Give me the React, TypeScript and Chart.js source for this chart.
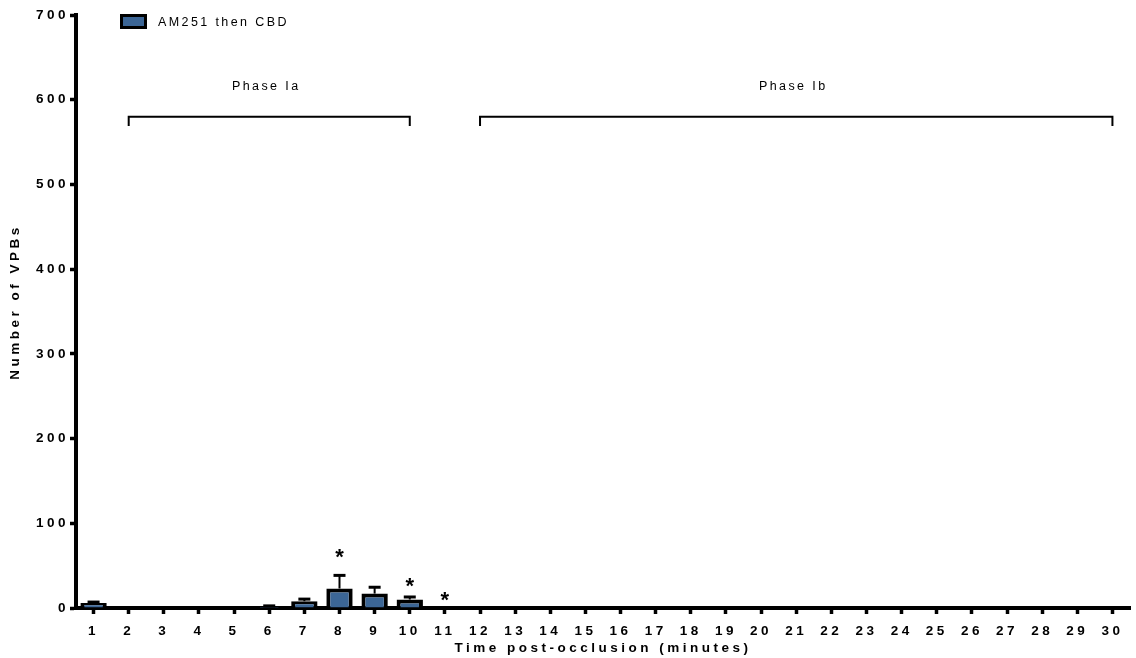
import React, { useEffect, useRef } from 'react';
import { Chart, registerables } from 'chart.js';

Chart.register(...registerables);

const minutes = ['1','2','3','4','5','6','7','8','9','10','11','12','13','14','15','16','17','18','19','20','21','22','23','24','25','26','27','28','29','30'];
const vpbMeans = [6,0,0,0,0,2,8,23,17,10,0,0,0,0,0,0,0,0,0,0,0,0,0,0,0,0,0,0,0,0];
const vpbErrors = [1,0,0,0,0,0.5,2.5,15.5,7.5,3,0,0,0,0,0,0,0,0,0,0,0,0,0,0,0,0,0,0,0,0];
const asteriskMinutes = ['8','10','11'];
const asteriskLevels = [64,30,13];
const phaseLabels = ['Phase Ia','Phase Ib'];
const phaseStarts = ['2','12'];
const phaseEnds = ['10','30'];
const bracketLevel = 580;
const bracketTickLevel = 569;
const phaseLabelLevel = 616;
const seriesName = 'AM251 then CBD';
const yTitle = 'Number of VPBs';
const xTitle = 'Time post-occlusion (minutes)';
const yMin = 0;
const yMax = 700;
const yStep = 100;

const FONT = '"Liberation Sans", Arial, Helvetica, sans-serif';
const BAR_BLUE = '#3C6696';
const SPACING = '3.5px';

const overlayPlugin = {
  id: 'overlay',
  beforeLayout(chart: any) {
    chart.ctx.letterSpacing = SPACING;
  },
  beforeDraw(chart: any) {
    chart.ctx.letterSpacing = SPACING;
  },
  afterDatasetsDraw(chart: any) {
    const ctx = chart.ctx;
    const x = chart.scales.x;
    const y = chart.scales.y;
    ctx.save();
    ctx.strokeStyle = '#000';
    vpbMeans.forEach((v, i) => {
      const e = vpbErrors[i];
      if (!e || !v) return;
      const px = x.getPixelForValue(i);
      const y0 = y.getPixelForValue(v);
      const y1 = y.getPixelForValue(v + e);
      ctx.lineWidth = 2;
      ctx.beginPath();
      ctx.moveTo(px, y0);
      ctx.lineTo(px, y1);
      ctx.stroke();
      ctx.lineWidth = 3;
      ctx.beginPath();
      ctx.moveTo(px - 6, y1);
      ctx.lineTo(px + 6, y1);
      ctx.stroke();
    });
    ctx.letterSpacing = '0px';
    ctx.fillStyle = '#000';
    ctx.font = `bold 22px ${FONT}`;
    ctx.textAlign = 'center';
    ctx.textBaseline = 'alphabetic';
    const m = ctx.measureText('*');
    const asc = m.actualBoundingBoxAscent;
    const desc = m.actualBoundingBoxDescent;
    asteriskMinutes.forEach((mn, k) => {
      const idx = minutes.indexOf(mn);
      const px = x.getPixelForValue(idx);
      const cy = y.getPixelForValue(asteriskLevels[k]);
      ctx.fillText('*', px, cy + (asc - desc) / 2);
    });
    ctx.restore();
  },
  afterDraw(chart: any) {
    const ctx = chart.ctx;
    const x = chart.scales.x;
    const y = chart.scales.y;
    ctx.save();
    ctx.strokeStyle = '#000';
    ctx.lineWidth = 2;
    ctx.fillStyle = '#000';
    ctx.font = `12.5px ${FONT}`;
    ctx.letterSpacing = '2.4px';
    ctx.textAlign = 'center';
    ctx.textBaseline = 'middle';
    phaseLabels.forEach((label, k) => {
      const xa = x.getPixelForValue(minutes.indexOf(phaseStarts[k]));
      const xb = x.getPixelForValue(minutes.indexOf(phaseEnds[k]));
      const yb = y.getPixelForValue(bracketLevel);
      const yt = y.getPixelForValue(bracketTickLevel);
      ctx.beginPath();
      ctx.moveTo(xa, yt);
      ctx.lineTo(xa, yb);
      ctx.lineTo(xb, yb);
      ctx.lineTo(xb, yt);
      ctx.stroke();
      ctx.fillText(label, (xa + xb) / 2 - 3, y.getPixelForValue(phaseLabelLevel));
    });
    // legend
    const lx = 120, ly = 14, lw = 27, lh = 15;
    ctx.fillStyle = '#000';
    ctx.fillRect(lx, ly, lw, lh);
    ctx.fillStyle = BAR_BLUE;
    ctx.fillRect(lx + 3, ly + 3, lw - 6, lh - 6);
    ctx.fillStyle = '#000';
    ctx.textAlign = 'left';
    ctx.textBaseline = 'middle';
    ctx.fillText(seriesName, 158, ly + lh / 2 + 1);
    // y title
    ctx.font = `bold 13.5px ${FONT}`;
    ctx.letterSpacing = SPACING;
    ctx.translate(15, 302);
    ctx.rotate(-Math.PI / 2);
    ctx.textAlign = 'center';
    ctx.fillText(yTitle, 0, 0);
    ctx.restore();
  },
};

export default function App() {
  const ref = useRef<HTMLCanvasElement | null>(null);
  useEffect(() => {
    if (!ref.current) return;
    const chart = new Chart(ref.current, {
      type: 'bar',
      data: {
        labels: minutes,
        datasets: [
          {
            label: seriesName,
            data: vpbMeans,
            backgroundColor: BAR_BLUE,
            borderColor: '#000',
            borderWidth: 4,
            barPercentage: 0.75,
            categoryPercentage: 1,
          },
        ],
      },
      options: {
        responsive: false,
        animation: false,
        devicePixelRatio: 1,
        layout: { padding: { top: 15, right: 6, left: 0, bottom: 0 } },
        plugins: {
          legend: { display: false },
          tooltip: { enabled: false },
          title: { display: false },
        },
        scales: {
          x: {
            type: 'category',
            z: 1,
            offset: true,
            grid: {
              offset: false,
              drawOnChartArea: false,
              drawTicks: true,
              tickLength: 6,
              tickWidth: 3.5,
              tickColor: '#000',
              color: '#000',
            },
            border: { display: true, width: 4, color: '#000' },
            ticks: {
              autoSkip: false,
              maxRotation: 0,
              minRotation: 0,
              color: '#000',
              padding: 9,
              font: { family: FONT, size: 13.5, weight: 'bold' },
            },
            title: {
              display: true,
              text: xTitle,
              color: '#000',
              padding: { top: 0, bottom: 2 },
              font: { family: FONT, size: 13.5, weight: 'bold' },
            },
            afterFit: (s: any) => { s.height = 50; },
          },
          y: {
            min: yMin,
            max: yMax,
            z: 1,
            grid: {
              drawOnChartArea: false,
              drawTicks: true,
              tickLength: 6,
              tickWidth: 3.5,
              tickColor: '#000',
              color: '#000',
            },
            border: { display: true, width: 4, color: '#000' },
            ticks: {
              stepSize: yStep,
              color: '#000',
              padding: 1,
              font: { family: FONT, size: 13.5, weight: 'bold' },
            },
            title: { display: false },
            afterFit: (s: any) => { s.width = 76; },
          },
        },
      },
      plugins: [overlayPlugin],
    });
    return () => chart.destroy();
  }, []);
  return (
    <div style={{ position: 'absolute', left: 0, top: 0, width: 1136, height: 658, background: '#fff' }}>
      <canvas ref={ref} width={1136} height={658} style={{ display: 'block' }} />
    </div>
  );
}
